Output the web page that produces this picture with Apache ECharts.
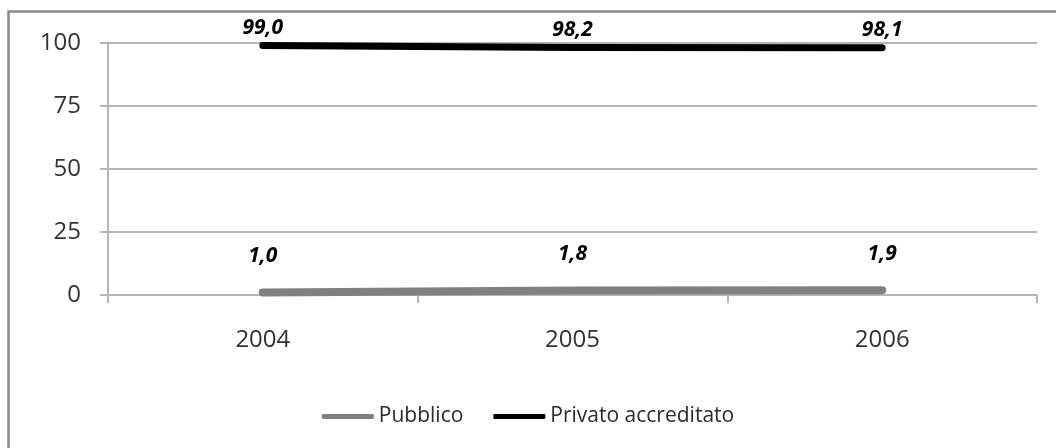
<!DOCTYPE html>
<html>
<head>
<meta charset="utf-8">
<script src="https://cdn.jsdelivr.net/npm/echarts@6/dist/echarts.min.js"></script>
<style>
  html, body { margin: 0; padding: 0; background: #fff; }
  #chart { width: 1056px; height: 448px; }
</style>
</head>
<body>
<div id="chart"></div>
<script>
// Anni e quote percentuali per tipo di struttura
const years = ['2004', '2005', '2006'];
const pubblico = [1.0, 1.8, 1.9];
const privatoAccreditato = [99.0, 98.2, 98.1];
const yTicks = { min: 0, max: 100, interval: 25 };

const FONT = '"Open Sans", "Noto Sans", sans-serif';
const fmt = v => v.toFixed(1).replace('.', ',');

const chart = echarts.init(document.getElementById('chart'), null, { renderer: 'canvas' });

const valueLabel = dist => ({
  show: true,
  position: 'top',
  distance: dist,
  fontFamily: FONT,
  fontSize: 21,
  fontWeight: 'bold',
  fontStyle: 'italic',
  color: '#000',
  formatter: p => fmt(p.value)
});

chart.setOption({
  animation: false,
  backgroundColor: '#fff',
  graphic: [{
    type: 'rect',
    shape: { x: 8.5, y: 11.5, width: 1080, height: 460 },
    style: { fill: 'none', stroke: '#8a8a8a', lineWidth: 2.5 },
    silent: true
  }],
  grid: { left: 108, right: 19, top: 43, bottom: 153, containLabel: false },
  legend: {
    bottom: 16,
    left: 'center',
    itemGap: 30,
    itemWidth: 52,
    itemHeight: 5,
    icon: 'roundRect',
    textStyle: { fontFamily: FONT, fontSize: 21, color: '#2b2b2b' },
    data: ['Pubblico', 'Privato accreditato']
  },
  xAxis: {
    type: 'category',
    data: years,
    boundaryGap: true,
    axisLine: { lineStyle: { color: '#b5b5b5', width: 2 } },
    axisTick: { show: true, length: 8, lineStyle: { color: '#b5b5b5', width: 2 } },
    axisLabel: { margin: 33, fontFamily: FONT, fontSize: 24, color: '#333' },
    splitLine: { show: false }
  },
  yAxis: {
    type: 'value',
    min: yTicks.min,
    max: yTicks.max,
    interval: yTicks.interval,
    axisLine: { show: true, lineStyle: { color: '#b5b5b5', width: 2 } },
    axisTick: { show: true, length: 8, lineStyle: { color: '#b5b5b5', width: 2 } },
    axisLabel: { margin: 27, fontFamily: FONT, fontSize: 24, color: '#333' },
    splitLine: { show: true, lineStyle: { color: '#b5b5b5', width: 2 } }
  },
  series: [
    {
      name: 'Pubblico',
      type: 'line',
      data: pubblico,
      showSymbol: true,
      symbol: 'circle',
      symbolSize: 0,
      itemStyle: { color: '#808080' },
      lineStyle: { color: '#808080', width: 8, cap: 'round', join: 'round' },
      label: valueLabel(26)
    },
    {
      name: 'Privato accreditato',
      type: 'line',
      data: privatoAccreditato,
      showSymbol: true,
      symbol: 'circle',
      symbolSize: 0,
      itemStyle: { color: '#000' },
      lineStyle: { color: '#000', width: 7, cap: 'round', join: 'round' },
      label: valueLabel(7)
    }
  ]
});
</script>
</body>
</html>
